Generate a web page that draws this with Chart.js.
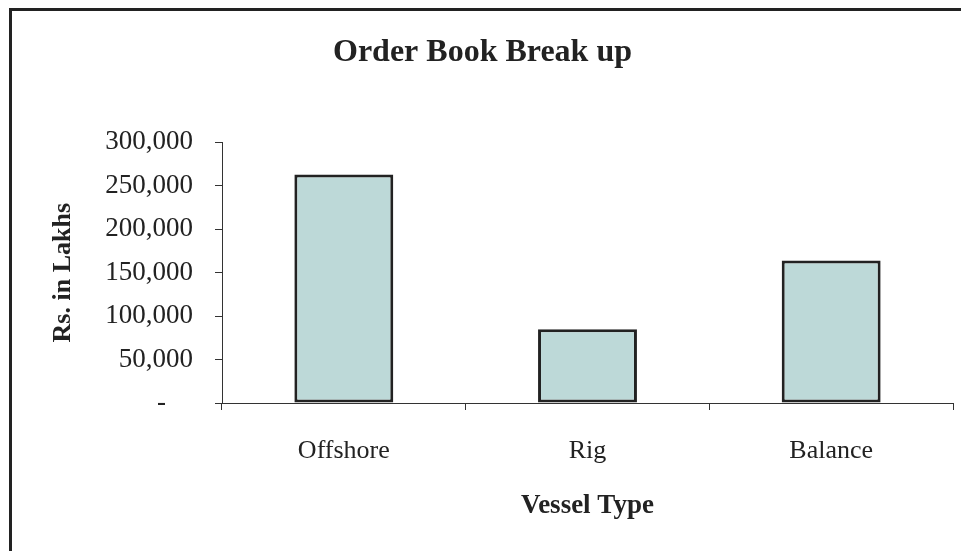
<!DOCTYPE html>
<html>
<head>
<meta charset="utf-8">
<script src="https://cdn.jsdelivr.net/npm/chart.js@4/dist/chart.umd.min.js"></script>
<style>
  html, body { margin: 0; padding: 0; background: #fff; }
  #frame {
    position: absolute;
    left: 9px;
    top: 8px;
    border-top: 3px solid #222;
    border-left: 3px solid #222;
  }
  #orderChart { display: block; }
</style>
</head>
<body>
<div id="frame">
  <canvas id="orderChart" width="949" height="540"></canvas>
</div>
<script>
const VESSEL_TYPES = ["Offshore", "Rig", "Balance"];
const ORDER_VALUES = [263000, 85000, 164000];
const Y_MIN = 0;
const Y_MAX = 300000;
const Y_STEP = 50000;

const TEXT_COLOUR = "#222";
const AXIS_COLOUR = "#333";
const BAR_FILL = "#bdd9d8";
const BAR_EDGE = "#222";
const SERIF = "'Liberation Serif', 'Times New Roman', serif";

Chart.defaults.font.family = SERIF;
Chart.defaults.color = TEXT_COLOUR;

const ctx = document.getElementById("orderChart").getContext("2d");

new Chart(ctx, {
  type: "bar",
  data: {
    labels: VESSEL_TYPES,
    datasets: [
      {
        data: ORDER_VALUES,
        backgroundColor: BAR_FILL,
        borderColor: BAR_EDGE,
        borderWidth: 3,
        borderSkipped: false,
        categoryPercentage: 1,
        barPercentage: 0.406,
      },
    ],
  },
  options: {
    responsive: false,
    animation: false,
    devicePixelRatio: 1,
    layout: {
      padding: { left: 0, right: 8, top: 0, bottom: 0 },
    },
    plugins: {
      legend: { display: false },
      tooltip: { enabled: false },
      title: {
        display: true,
        text: "Order Book Break up",
        color: TEXT_COLOUR,
        font: { size: 32, weight: "bold" },
        padding: { top: 23, bottom: 70 },
      },
    },
    scales: {
      x: {
        grid: {
          offset: true,
          drawOnChartArea: false,
          drawTicks: true,
          tickLength: 7,
          color: AXIS_COLOUR,
        },
        border: { display: true, color: AXIS_COLOUR, width: 1 },
        ticks: {
          color: TEXT_COLOUR,
          font: { size: 26 },
          padding: 26,
          maxRotation: 0,
        },
        title: {
          display: true,
          text: "Vessel Type",
          color: TEXT_COLOUR,
          font: { size: 27, weight: "bold" },
          padding: { top: 10, bottom: 29 },
        },
        afterFit: (scale) => {
          scale.height = 148;
        },
      },
      y: {
        min: Y_MIN,
        max: Y_MAX,
        grid: {
          drawOnChartArea: false,
          drawTicks: true,
          tickLength: 7,
          color: AXIS_COLOUR,
        },
        border: { display: true, color: AXIS_COLOUR, width: 1 },
        ticks: {
          stepSize: Y_STEP,
          color: TEXT_COLOUR,
          font: { size: 27 },
          padding: 22,
          callback: (value) =>
            value === 0 ? "-    " : value.toLocaleString("en-US"),
        },
        title: {
          display: true,
          text: "Rs. in Lakhs",
          color: TEXT_COLOUR,
          font: { size: 26, weight: "bold" },
          padding: { top: 36, bottom: 0 },
        },
        afterFit: (scale) => {
          scale.width = 210;
        },
      },
    },
  },
});
</script>
</body>
</html>
